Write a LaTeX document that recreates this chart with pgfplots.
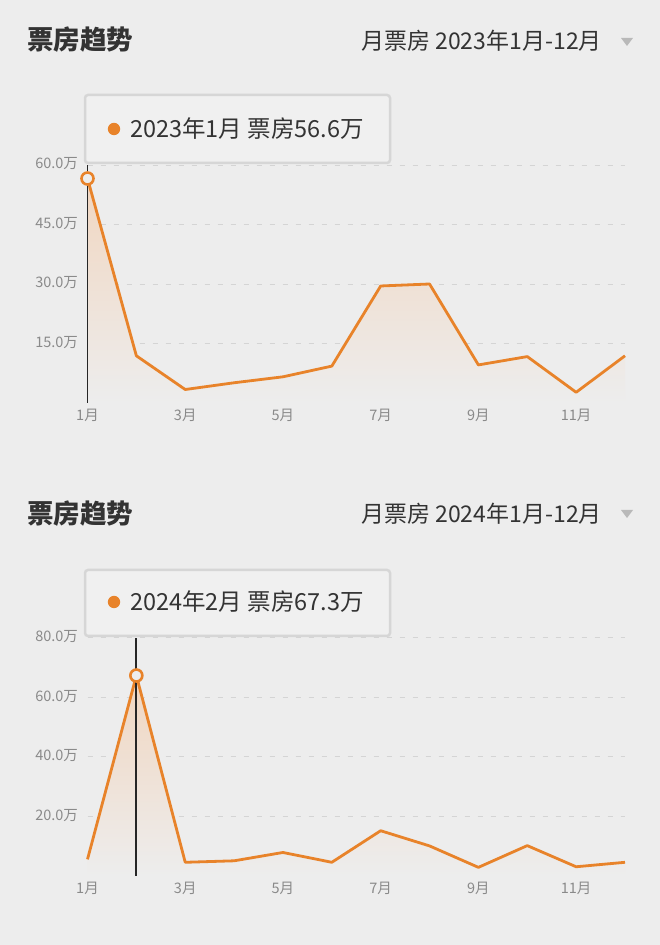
\documentclass[border=0pt]{standalone}
\usepackage{fontspec}
\setmainfont{Noto Sans CJK SC}
\usepackage{pgfplots}
\pgfplotsset{compat=1.18}

\definecolor{bg}{HTML}{EDEDED}
\definecolor{linec}{HTML}{E8832A}
\definecolor{areatop}{HTML}{F1D6C0}
\definecolor{txt}{HTML}{333333}
\definecolor{tickc}{HTML}{8A8A8A}
\definecolor{gridc}{HTML}{D4D4D4}
\definecolor{basec}{HTML}{D8D8D8}
\definecolor{boxfill}{HTML}{F0F0F0}
\definecolor{boxdraw}{HTML}{D6D6D6}

% monthly box office, 10k yuan
\pgfplotstableread{
m v
1 56.6
2 11.9
3 3.4
4 5.1
5 6.6
6 9.3
7 29.5
8 30.0
9 9.6
10 11.7
11 2.7
12 11.9
}\dataA
\pgfplotstableread{
m v
1 5.6
2 67.3
3 4.6
4 5.1
5 7.9
6 4.6
7 15.2
8 10.1
9 2.9
10 10.2
11 3.1
12 4.6
}\dataB

\pgfplotsset{trend/.style={
  scale only axis, width=537.5pt,
  xmin=1, xmax=12, ymin=0,
  clip=false, anchor=south west,
  axis lines*=left,
  y axis line style={draw=none},
  x axis line style={basec, line width=1pt},
  major tick length=0pt,
  xtick={1,3,5,7,9,11},
  xticklabels={1月,3月,5月,7月,9月,11月},
  ymajorgrids,
  major grid style={gridc, dash pattern=on 5pt off 8pt, line width=0.9pt},
  ticklabel style={font=\fontsize{14.5}{16}\selectfont, text=tickc},
  /pgf/number format/assume math mode=true,
  yticklabel={\pgfmathprintnumber[fixed,fixed zerofill,precision=1]{\tick}万},
  yticklabel style={anchor=east, xshift=-6pt, yshift=1pt},
  xticklabel style={yshift=-3pt},
}}

\begin{document}
\begin{tikzpicture}[x=1pt,y=1pt]
\fill[bg] (0,0) rectangle (660,945);
\path[use as bounding box] (0,0) rectangle (660,945);

% ---- panel 2023 ----
\node[anchor=west, text=txt, font=\fontsize{26.5}{30}\selectfont\bfseries, inner sep=0pt] at (27,905) {票房趋势};
\node[anchor=east, text=txt, font=\fontsize{23}{27}\selectfont, inner sep=0pt] at (602,904) {月票房 2023年1月-12月};
\fill[gray!55] (621,907) -- (633,907) -- (627,899) -- cycle;

\begin{axis}[trend, at={(87.5pt,542pt)}, height=238pt, ymax=60, ytick={15,30,45,60}]
  \addplot[draw=none, top color=areatop, bottom color=bg] table[x=m,y=v] {\dataA} \closedcycle;
  \addplot[linec, line width=2.8pt, line join=round] table[x=m,y=v] {\dataA};
  \addplot[black!85, line width=1.8pt] coordinates {(1,0) (1,60)};
  \addplot[only marks, mark=*, mark size=6pt, mark options={fill=bg, draw=linec, line width=2.6pt}] coordinates {(1,56.6)};
\end{axis}

\draw[boxdraw, line width=2.5pt, fill=boxfill, rounded corners=3pt] (85,850) rectangle (390,782);
\fill[linec] (114,816) circle (6.2);
\node[anchor=west, text=txt, font=\fontsize{23.5}{27}\selectfont, inner sep=0pt] at (130,816) {2023年1月 票房56.6万};

% ---- panel 2024 ----
\node[anchor=west, text=txt, font=\fontsize{26.5}{30}\selectfont\bfseries, inner sep=0pt] at (27,431) {票房趋势};
\node[anchor=east, text=txt, font=\fontsize{23}{27}\selectfont, inner sep=0pt] at (602,431) {月票房 2024年1月-12月};
\fill[gray!55] (621,435) -- (633,435) -- (627,427) -- cycle;

\begin{axis}[trend, at={(87.5pt,69pt)}, height=238.3pt, ymax=80, ytick={20,40,60,80}]
  \addplot[draw=none, top color=areatop, bottom color=bg] table[x=m,y=v] {\dataB} \closedcycle;
  \addplot[linec, line width=2.8pt, line join=round] table[x=m,y=v] {\dataB};
  \addplot[black!85, line width=1.8pt] coordinates {(2,0) (2,80)};
  \addplot[only marks, mark=*, mark size=6pt, mark options={fill=bg, draw=linec, line width=2.6pt}] coordinates {(2,67.3)};
\end{axis}

\draw[boxdraw, line width=2.5pt, fill=boxfill, rounded corners=3pt] (85,375) rectangle (390,309);
\fill[linec] (114,343) circle (6.2);
\node[anchor=west, text=txt, font=\fontsize{23.5}{27}\selectfont, inner sep=0pt] at (130,343) {2024年2月 票房67.3万};
\end{tikzpicture}
\end{document}
